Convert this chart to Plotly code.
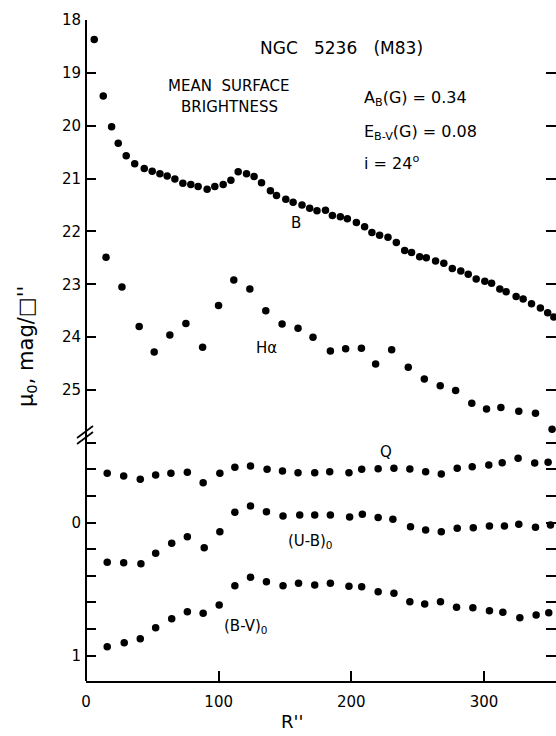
import plotly.graph_objects as go

# ---------------- data ----------------
b_r = [6.2, 13.0, 19.3, 24.3, 30.3, 36.7, 43.9, 49.9, 55.7, 61.2, 67.0, 73.0, 79.0, 84.5,
       91.3, 97.1, 103.4, 109.2, 114.7, 121.0, 126.7, 132.3, 139.0, 143.6, 150.6, 156.1,
       162.8, 168.6, 174.1, 180.5, 185.7, 191.7, 197.0, 203.8, 210.0, 215.5, 221.3, 227.6,
       233.9, 240.2, 245.4, 251.5, 256.5, 263.5, 269.7, 276.1, 282.5, 288.1, 294.1, 300.6,
       305.7, 311.9, 316.7, 324.2, 329.5, 335.8, 342.5, 348.0, 352.6]
b_mu = [18.37, 19.44, 20.02, 20.33, 20.57, 20.72, 20.81, 20.86, 20.91, 20.95, 21.01, 21.09,
        21.11, 21.15, 21.20, 21.15, 21.11, 21.03, 20.87, 20.91, 20.96, 21.08, 21.23, 21.32,
        21.39, 21.45, 21.50, 21.56, 21.61, 21.60, 21.70, 21.72, 21.76, 21.83, 21.91, 22.02,
        22.07, 22.11, 22.21, 22.36, 22.40, 22.48, 22.50, 22.56, 22.60, 22.70, 22.75, 22.81,
        22.90, 22.94, 22.98, 23.09, 23.14, 23.23, 23.28, 23.37, 23.45, 23.54, 23.62]

ha_r = [15.1, 27.1, 40.1, 51.4, 63.2, 75.3, 87.9, 99.9, 111.4, 123.5, 135.5, 147.8, 159.8,
        171.1, 184.2, 195.7, 207.6, 218.3, 230.4, 242.9, 255.0, 267.0, 278.6, 290.8, 301.9,
        312.7, 326.2, 338.8, 351.3]
ha_mu = [22.49, 23.05, 23.80, 24.28, 23.96, 23.74, 24.19, 23.40, 22.92, 23.09, 23.50, 23.75,
         23.83, 24.00, 24.26, 24.22, 24.21, 24.51, 24.24, 24.57, 24.79, 24.92, 25.01, 25.25,
         25.36, 25.33, 25.40, 25.44, 25.74]

q_r = [16.0, 28.4, 40.9, 52.5, 64.0, 76.4, 88.3, 100.9, 112.2, 124.0, 136.5, 148.1, 159.8,
       172.4, 183.7, 198.2, 207.8, 220.2, 232.1, 244.1, 256.0, 267.8, 279.8, 291.1, 303.6,
       313.7, 325.7, 338.2, 348.3]
q_val = [-0.370, -0.350, -0.325, -0.357, -0.370, -0.377, -0.299, -0.370, -0.415, -0.425,
         -0.400, -0.387, -0.374, -0.374, -0.382, -0.374, -0.400, -0.404, -0.408, -0.402,
         -0.382, -0.365, -0.408, -0.420, -0.432, -0.450, -0.483, -0.447, -0.453]

ub_r = [16.0, 28.4, 41.4, 52.5, 64.6, 76.4, 89.1, 100.9, 112.2, 124.0, 136.0, 148.5, 161.1,
        172.4, 184.2, 198.7, 208.3, 220.2, 231.3, 244.6, 256.0, 267.8, 279.8, 291.9, 304.1,
        315.4, 326.2, 338.8, 350.1]
ub_val = [0.299, 0.302, 0.310, 0.232, 0.156, 0.107, 0.189, 0.069, -0.077, -0.124, -0.081,
          -0.049, -0.056, -0.056, -0.056, -0.041, -0.062, -0.038, -0.024, 0.032, 0.056,
          0.069, 0.044, 0.039, 0.026, 0.026, 0.014, 0.036, 0.019]

bv_r = [16.0, 28.8, 40.9, 52.5, 64.6, 76.4, 88.3, 100.4, 112.2, 124.0, 136.0, 148.5, 160.2,
        172.4, 184.2, 198.2, 207.8, 220.2, 232.1, 244.1, 255.3, 267.2, 279.3, 291.6, 304.1,
        314.2, 327.0, 339.3, 348.8]
bv_val = [0.934, 0.904, 0.874, 0.791, 0.723, 0.671, 0.683, 0.620, 0.475, 0.412, 0.445,
          0.475, 0.457, 0.470, 0.457, 0.480, 0.483, 0.520, 0.532, 0.595, 0.613, 0.595,
          0.638, 0.641, 0.663, 0.675, 0.716, 0.695, 0.678]

x_ticks = [0, 100, 200, 300]
mu_ticks = [18, 19, 20, 21, 22, 23, 24, 25]
col_ticks = [0, 1]
col_minor_ticks = [-0.6, -0.4, -0.2, 0.2, 0.4, 0.6, 0.8]

# ---------------- layout helpers (pixel -> paper) ----------------
W, H = 556, 736
L, R, T, B = 86, 0, 20, 55
PW, PH = W - L - R, H - T - B


def px(xp):
    return (xp - L) / PW


def py(yp):
    return (H - B - yp) / PH


BREAK = py(435)
FONT = "DejaVu Sans"
XR = [0, (W - L - R) / 1.3267]

fig = go.Figure()
mk = dict(color="black", size=7.5)
fig.add_trace(go.Scatter(x=b_r, y=b_mu, mode="markers", marker=mk, name="B",
                         xaxis="x", yaxis="y"))
fig.add_trace(go.Scatter(x=ha_r, y=ha_mu, mode="markers", marker=mk, name="Hα",
                         xaxis="x", yaxis="y"))
fig.add_trace(go.Scatter(x=q_r, y=q_val, mode="markers", marker=mk, name="Q",
                         xaxis="x", yaxis="y2"))
fig.add_trace(go.Scatter(x=ub_r, y=ub_val, mode="markers", marker=mk, name="(U-B)0",
                         xaxis="x", yaxis="y2"))
fig.add_trace(go.Scatter(x=bv_r, y=bv_val, mode="markers", marker=mk, name="(B-V)0",
                         xaxis="x", yaxis="y2"))

tick_style = dict(ticks="inside", ticklen=10, tickwidth=1.6, tickcolor="black",
                  showgrid=False, zeroline=False,
                  tickfont=dict(family=FONT, size=15, color="black"))

fig.update_layout(
    width=W, height=H, autosize=False,
    margin=dict(l=L, r=R, t=T, b=B, pad=0),
    paper_bgcolor="white", plot_bgcolor="white",
    showlegend=False,
    xaxis=dict(range=XR, tickvals=x_ticks, anchor="y2",
               showline=True, linecolor="black", linewidth=2, mirror=False,
               ticklabelstandoff=6, **tick_style),
    xaxis2=dict(range=XR, tickvals=x_ticks, overlaying="x", side="top",
                anchor="free", position=1, showticklabels=False,
                showline=True, linecolor="black", linewidth=2, **tick_style),
    yaxis=dict(domain=[BREAK, 1], range=[18 + (435 - 20) / 52.86, 18], tickvals=mu_ticks,
               showline=False, mirror="ticks", anchor="x", ticklabelstandoff=4,
               **tick_style),
    yaxis2=dict(domain=[0, BREAK], range=[(681 - 522.5) / 133, (435 - 522.5) / 133],
                tickvals=col_ticks, ticktext=["0", "1"],
                minor=dict(tickvals=col_minor_ticks, ticks="inside", ticklen=10,
                           tickwidth=1.6, tickcolor="black", showgrid=False),
                showline=False, mirror="ticks", anchor="x", ticklabelstandoff=4,
                **tick_style),
)

# left axis line and break marks
fig.add_shape(type="line", xref="paper", yref="paper", x0=0, x1=0, y0=0, y1=1,
              line=dict(color="black", width=2))
for dy in (0, 6):
    fig.add_shape(type="line", xref="paper", yref="paper",
                  x0=px(77), y0=py(438 + dy), x1=px(93), y1=py(426 + dy),
                  line=dict(color="black", width=1.6))

NB = "\u00a0"


def note(text, xp, yp, size=15, xanchor="center", angle=0):
    fig.add_annotation(text=text, x=px(xp), y=py(yp), xref="paper", yref="paper",
                       showarrow=False, xanchor=xanchor, yanchor="middle",
                       textangle=angle,
                       font=dict(family=FONT, size=size, color="black"))


note("NGC" + NB * 3 + "5236" + NB * 3 + "(M83)", 341, 48, size=17)
note("MEAN" + NB * 2 + "SURFACE", 229, 86, size=15)
note("BRIGHTNESS", 229, 107, size=15)
note("A<sub>B</sub>(G) = 0.34", 362, 99, size=16, xanchor="left")
note("E<sub>B-V</sub>(G) = 0.08", 362, 132, size=16, xanchor="left")
note("i = 24<sup>o</sup>", 362, 162, size=16, xanchor="left")
note("B", 296, 223, size=15)
note("Hα", 266, 348, size=15)
note("Q", 386, 452, size=15)
note("(U-B)<sub>0</sub>", 286, 541, size=15, xanchor="left")
note("(B-V)<sub>0</sub>", 222, 626, size=15, xanchor="left")
note("R''", 292, 721, size=18)
note("μ<sub>0</sub>," + NB + "mag/□''", 27, 347, size=21, angle=-90)

fig.write_html("out.html")
